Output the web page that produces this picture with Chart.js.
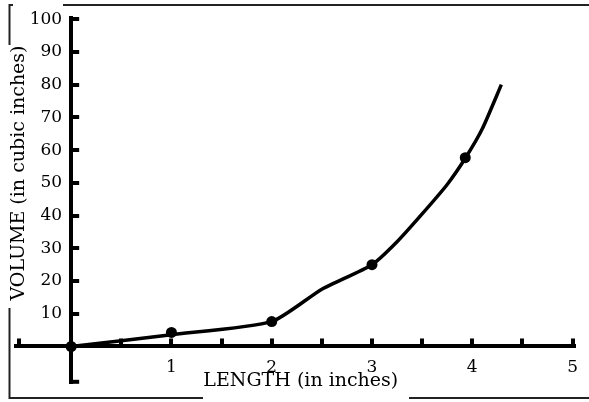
<!DOCTYPE html>
<html><head><meta charset="utf-8">
<script src="https://cdn.jsdelivr.net/npm/chart.js@4/dist/chart.umd.min.js"></script>
<style>html,body{margin:0;padding:0;background:#fff;overflow:hidden}#wrap{width:589px;height:402px;position:relative}</style>
</head><body><div id="wrap"><canvas id="c" width="589" height="402"></canvas></div>
<script>
// measured points (dots)
const lengths = [0, 1, 2, 3, 3.93];
const volumes = [0, 4.3, 7.6, 25, 57.7];
// the drawn curve
const curveLengths = [0, 1, 2, 2.5, 3, 3.25, 3.5, 3.75, 3.93, 4.1, 4.29];
const curveVolumes = [0, 3.6, 7.6, 17.5, 25, 32, 40.5, 49.5, 57.5, 66.5, 80];
// axes
const xTickValues = [1, 2, 3, 4, 5];
const xTickLabels = ['1', '2', '3', '4', '5'];
const xMinorTicks = [0.5, 1, 1.5, 2, 2.5, 3, 3.5, 4, 4.5, 5];
const yTickValues = [10, 20, 30, 40, 50, 60, 70, 80, 90, 100];
const yTickLabels = ['10', '20', '30', '40', '50', '60', '70', '80', '90', '100'];
const xTitle = 'LENGTH (in inches)';
const yTitle = 'VOLUME (in cubic inches)';

const FONT = 'DejaVu Serif';
const Y_LABEL_GAP = 9;

const labelShiftPlugin = {
  id: 'labelShift',
  afterUpdate(chart) {
    const ys = chart.scales.y;
    const items = ys.getLabelItems(chart.chartArea);
    items.forEach(it => { it.options.translation[0] -= Y_LABEL_GAP; });
  }
};

const decorPlugin = {
  id: 'decor',
  afterDraw(chart) {
    const ctx = chart.ctx;
    const xs = chart.scales.x, ys = chart.scales.y;
    const x0 = xs.getPixelForValue(0);
    const y0 = ys.getPixelForValue(0);
    const ca = chart.chartArea;
    ctx.save();
    ctx.fillStyle = '#000';
    // y tick marks pointing right
    yTickValues.forEach(v => {
      const y = ys.getPixelForValue(v);
      ctx.fillRect(x0, Math.round(y) - 2, 8, 4);
    });
    // y axis bottom cap
    ctx.fillRect(x0, ca.bottom - 4, 8, 4);
    // x tick marks pointing up
    xMinorTicks.forEach(v => {
      const x = xs.getPixelForValue(v);
      ctx.fillRect(Math.round(x) - 2, y0 - 8, 4, 8);
    });
    // x axis left cap
    ctx.fillRect(ca.left + 1, y0 - 8, 4, 8);
    // frame
    ctx.strokeStyle = '#222';
    ctx.lineWidth = 2;
    ctx.beginPath();
    ctx.moveTo(13, 5); ctx.lineTo(9.5, 5); ctx.lineTo(9.5, 45);
    ctx.moveTo(63, 5); ctx.lineTo(589, 5);
    ctx.moveTo(9.5, 308); ctx.lineTo(9.5, 398); ctx.lineTo(203, 398);
    ctx.moveTo(409, 398); ctx.lineTo(589, 398);
    ctx.stroke();
    // titles
    ctx.fillStyle = '#000';
    ctx.font = '19px "' + FONT + '"';
    ctx.textAlign = 'center';
    ctx.textBaseline = 'middle';
    ctx.fillText(xTitle, (ca.left + ca.right) / 2 + 5, ca.bottom - 3);
    ctx.translate(19, ys.getPixelForValue(53));
    ctx.rotate(-Math.PI / 2);
    ctx.fillText(yTitle, 0, 0);
    ctx.restore();
  }
};

new Chart(document.getElementById('c'), {
  type: 'scatter',
  data: {
    datasets: [
      {
        data: curveLengths.map((x, i) => ({x, y: curveVolumes[i]})),
        showLine: true,
        borderColor: '#000',
        borderWidth: 3.5,
        pointRadius: 0,
        tension: 0.2,
        fill: false
      },
      {
        data: lengths.map((x, i) => ({x, y: volumes[i]})),
        showLine: false,
        pointRadius: 5.5,
        pointBackgroundColor: '#000',
        pointBorderColor: '#000',
        pointBorderWidth: 0
      }
    ]
  },
  options: {
    responsive: false,
    animation: false,
    devicePixelRatio: 1,
    layout: { padding: { left: 16, right: 4, top: 14, bottom: 15 } },
    plugins: { legend: { display: false }, tooltip: { enabled: false } },
    scales: {
      x: {
        type: 'linear',
        min: -0.55,
        max: 5.03,
        position: { y: 0 },
        border: { display: true, width: 4, color: '#000' },
        grid: { display: false, drawTicks: false },
        ticks: {
          stepSize: 0.5,
          autoSkip: false,
          maxRotation: 0,
          includeBounds: false,
          padding: 11,
          color: '#000',
          font: { family: FONT, size: 17 },
          callback: (v) => {
            const i = xTickValues.indexOf(v);
            return i >= 0 ? xTickLabels[i] : '';
          }
        }
      },
      y: {
        type: 'linear',
        min: -11.4,
        max: 100.3,
        position: { x: 0 },
        border: { display: true, width: 4, color: '#000' },
        grid: { display: false, drawTicks: false },
        ticks: {
          stepSize: 10,
          autoSkip: false,
          includeBounds: false,
          padding: 8,
          color: '#000',
          font: { family: FONT, size: 17 },
          callback: (v) => {
            const i = yTickValues.indexOf(v);
            return i >= 0 ? yTickLabels[i] : '';
          }
        }
      }
    }
  },
  plugins: [labelShiftPlugin, decorPlugin]
});
</script>
</body></html>
